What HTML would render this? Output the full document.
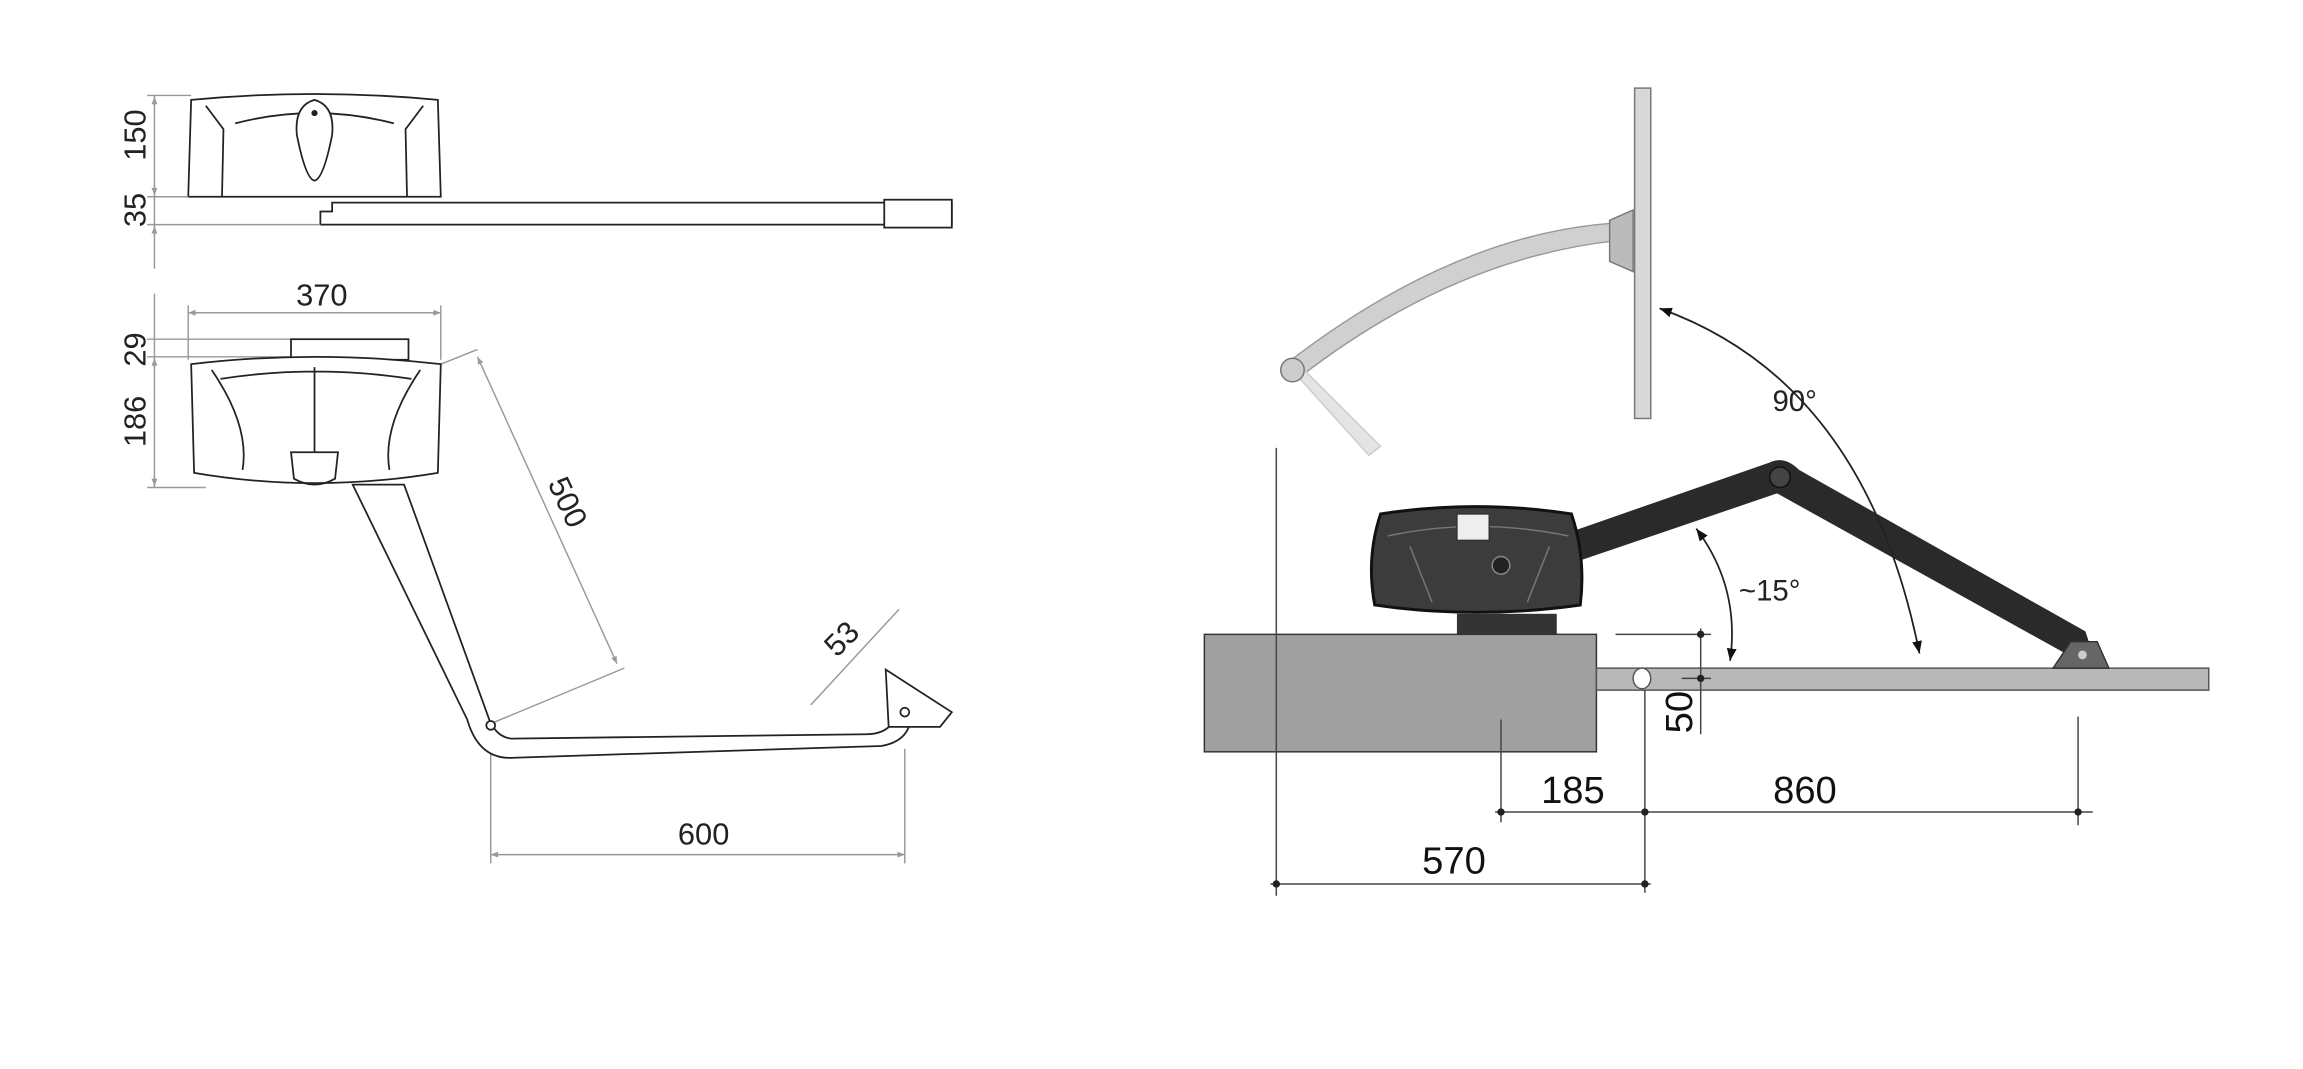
<!DOCTYPE html>
<html><head><style>html,body{margin:0;padding:0;background:#fff}svg{display:block}</style></head>
<body>
<svg width="2303" height="1069" viewBox="0 0 1568 728" xmlns="http://www.w3.org/2000/svg" font-family="Liberation Sans, sans-serif">
<rect width="1568" height="728" fill="#fff"/>
<defs>
<marker id="a" viewBox="0 0 10 10" refX="10" refY="5" markerWidth="8" markerHeight="5" orient="auto-start-reverse"><path d="M0,1L10,5L0,9z" fill="#999"/></marker>
<marker id="b" viewBox="0 0 10 10" refX="10" refY="5" markerWidth="7" markerHeight="7" orient="auto-start-reverse"><path d="M0,1L10,5L0,9z" fill="#111"/></marker>
</defs>
<!-- Top left view -->
<g stroke="#222" fill="#fff" stroke-width="1.2">
<path d="M130,68 Q214,60 298,68 L300,134 L128,134 Z"/>
<path d="M140,72 L152,88 L151,134 M288,72 L276,88 L277,134 M160,84 Q214,70 268,84" fill="none"/>
<path d="M214,68 Q200,72 202,92 Q208,122 214,123 Q220,122 226,92 Q228,72 214,68Z"/>
<circle cx="214" cy="77" r="1.5" fill="#222"/>
<path d="M218,144 L226,144 L226,138 L648,138 L648,153 L218,153 Z"/>
<rect x="602" y="136" width="46" height="19"/>
</g>
<g stroke="#999" fill="none" stroke-width="1">
<line x1="105" y1="65" x2="105" y2="183"/>
<line x1="100" y1="65" x2="130" y2="65"/><line x1="100" y1="134" x2="128" y2="134"/><line x1="100" y1="153" x2="218" y2="153"/>
<line x1="105" y1="72" x2="105" y2="66" marker-end="url(#a)"/>
<line x1="105" y1="126" x2="105" y2="133" marker-end="url(#a)"/>
<line x1="105" y1="160" x2="105" y2="154" marker-end="url(#a)"/>
</g>
<text transform="translate(99,92) rotate(-90)" font-size="21" text-anchor="middle" fill="#222">150</text>
<text transform="translate(99,143) rotate(-90)" font-size="21" text-anchor="middle" fill="#222">35</text>
<!-- Bottom left view -->
<g stroke="#999" fill="none" stroke-width="1">
<line x1="128" y1="213" x2="300" y2="213" marker-start="url(#a)" marker-end="url(#a)"/>
<line x1="128" y1="208" x2="128" y2="245"/><line x1="300" y1="208" x2="300" y2="245"/>
<line x1="105" y1="200" x2="105" y2="332"/>
<line x1="100" y1="231" x2="198" y2="231"/><line x1="100" y1="243" x2="198" y2="243"/><line x1="100" y1="332" x2="140" y2="332"/>
<line x1="105" y1="250" x2="105" y2="244" marker-end="url(#a)"/>
<line x1="105" y1="325" x2="105" y2="331" marker-end="url(#a)"/>
<line x1="300" y1="248" x2="325" y2="238"/>
<line x1="325" y1="243" x2="420" y2="452" marker-start="url(#a)" marker-end="url(#a)"/>
<line x1="336" y1="492" x2="425" y2="455"/>
<line x1="552" y1="480" x2="612" y2="415"/>
<line x1="334" y1="498" x2="334" y2="588"/><line x1="616" y1="510" x2="616" y2="588"/>
<line x1="334" y1="582" x2="616" y2="582" marker-start="url(#a)" marker-end="url(#a)"/>
</g>
<text x="219" y="208" font-size="21" text-anchor="middle" fill="#222">370</text>
<text transform="translate(99,238) rotate(-90)" font-size="21" text-anchor="middle" fill="#222">29</text>
<text transform="translate(99,287) rotate(-90)" font-size="21" text-anchor="middle" fill="#222">186</text>
<text transform="translate(380,345) rotate(65)" font-size="21" text-anchor="middle" fill="#222">500</text>
<text transform="translate(578,440) rotate(-45)" font-size="21" text-anchor="middle" fill="#222">53</text>
<text x="479" y="575" font-size="21" text-anchor="middle" fill="#222">600</text>
<g stroke="#222" fill="#fff" stroke-width="1.2">
<path d="M240,330 L318,490 Q326,518 350,516 L600,508 Q618,505 620,490 L610,488 Q605,500 590,500 L348,503 Q338,502 333,490 L275,330 Z"/>
<path d="M603,456 L648,485 L640,495 L605,495 Z"/>
<circle cx="616" cy="485" r="3"/><circle cx="334" cy="494" r="3"/>
<rect x="198" y="231" width="80" height="14"/>
<path d="M130,248 Q214,238 300,248 L298,322 Q214,336 132,322 Z"/>
<path d="M144,252 Q170,290 165,320 M286,252 Q260,290 265,320 M150,258 Q214,248 280,258 M214,250 L214,308 M198,308 L230,308 L228,326 Q214,334 200,326 Z" fill="none"/>
</g>
<!-- Right side -->
<rect x="820" y="432" width="267" height="80" fill="#a0a0a0" stroke="#333"/>
<rect x="1087" y="455" width="417" height="15" fill="#b8b8b8" stroke="#555"/>
<ellipse cx="1118" cy="462" rx="6" ry="7" fill="#fff" stroke="#555"/>
<rect x="1113" y="60" width="11" height="225" fill="#d8d8d8" stroke="#777"/>
<path d="M1098,152 Q990,160 878,246 L886,256 Q990,176 1100,164 Z" fill="#d0d0d0" stroke="#999"/>
<path d="M878,250 L932,310 L940,304 L888,252 Z" fill="#e4e4e4" stroke="#ccc"/>
<path d="M1096,150 L1112,143 L1112,185 L1096,178 Z" fill="#bbb" stroke="#777"/>
<circle cx="880" cy="252" r="8" fill="#ccc" stroke="#777"/>
<rect x="992" y="418" width="68" height="14" fill="#333"/>
<path d="M1070,362 L1205,315 Q1215,310 1225,320 L1420,430 L1425,445 L1410,447 L1210,336 L1075,382 Z" fill="#2a2a2a"/>
<circle cx="1212" cy="325" r="7" fill="#444" stroke="#111"/>
<path d="M1398,455 L1410,437 L1428,437 L1436,455 Z" fill="#666" stroke="#333"/>
<circle cx="1418" cy="446" r="3" fill="#ccc"/>
<path d="M940,350 Q1005,340 1070,350 Q1080,380 1076,412 Q1005,422 936,412 Q930,380 940,350 Z" fill="#3c3c3c" stroke="#111" stroke-width="2"/>
<path d="M960,372 L975,410 M1055,372 L1040,410 M945,365 Q1005,352 1068,365" stroke="#777" fill="none"/>
<rect x="992" y="350" width="22" height="18" fill="#eee" stroke="#333"/>
<circle cx="1022" cy="385" r="6" fill="#222" stroke="#888"/>
<g stroke="#222" fill="none" stroke-width="1.2">
<path d="M1130,210 Q1270,260 1307,445" marker-start="url(#b)" marker-end="url(#b)"/>
<path d="M1155,360 Q1185,400 1178,450" marker-start="url(#b)" marker-end="url(#b)"/>
</g>
<text x="1222" y="280" font-size="20" text-anchor="middle" fill="#222">90°</text>
<text x="1205" y="409" font-size="20" text-anchor="middle" fill="#222">~15°</text>
<g stroke="#444" stroke-width="1" fill="none">
<line x1="869" y1="305" x2="869" y2="610"/>
<line x1="1022" y1="490" x2="1022" y2="560"/>
<line x1="1120" y1="470" x2="1120" y2="608"/>
<line x1="1415" y1="488" x2="1415" y2="562"/>
<line x1="1158" y1="428" x2="1158" y2="500"/>
<line x1="1100" y1="432" x2="1165" y2="432"/>
<line x1="1145" y1="462" x2="1165" y2="462"/>
<line x1="1018" y1="553" x2="1425" y2="553"/>
<line x1="865" y1="602" x2="1124" y2="602"/>
</g>
<g fill="#222">
<circle cx="1022" cy="553" r="2.5"/><circle cx="1120" cy="553" r="2.5"/><circle cx="1415" cy="553" r="2.5"/>
<circle cx="869" cy="602" r="2.5"/><circle cx="1120" cy="602" r="2.5"/>
<circle cx="1158" cy="432" r="2.5"/><circle cx="1158" cy="462" r="2.5"/>
</g>
<text transform="translate(1152,485) rotate(-90)" font-size="26" text-anchor="middle" fill="#111">50</text>
<text x="1071" y="547" font-size="26" text-anchor="middle" fill="#111">185</text>
<text x="1229" y="547" font-size="26" text-anchor="middle" fill="#111">860</text>
<text x="990" y="595" font-size="26" text-anchor="middle" fill="#111">570</text>
</svg>
</body></html>
